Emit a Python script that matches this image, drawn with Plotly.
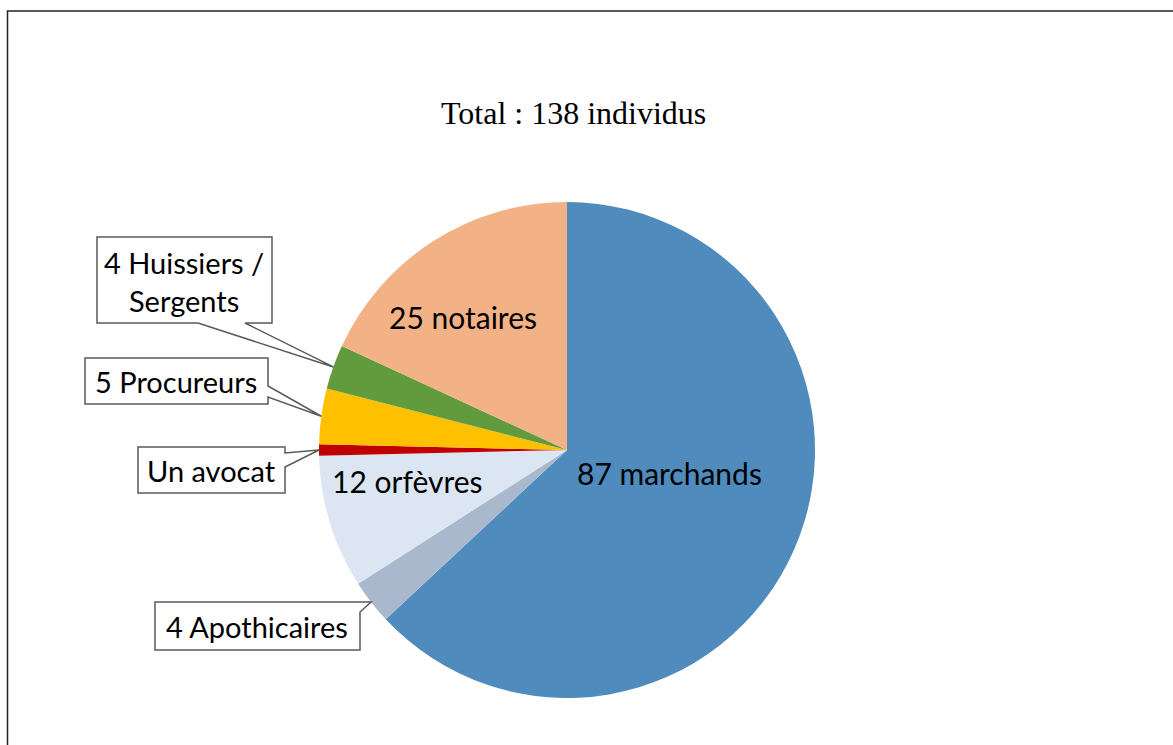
import math
import plotly.graph_objects as go

W, H = 1173, 745

categories = ["marchands", "Apothicaires", "orfèvres", "avocat",
              "Procureurs", "Huissiers / Sergents", "notaires"]
values = [87, 4, 12, 1, 5, 4, 25]
colors = ["#4F8BBD", "#A9B8CC", "#DCE6F2", "#C00000",
          "#FFC000", "#629B3E", "#F3B186"]
inside_labels = {"marchands": "87 marchands", "orfèvres": "12 orfèvres",
                 "notaires": "25 notaires"}
callout_labels = {"Huissiers / Sergents": "4 Huissiers /<br>Sergents",
                  "Procureurs": "5 Procureurs", "avocat": "Un avocat",
                  "Apothicaires": "4 Apothicaires"}
title = "Total : 138 individus"

# pie geometry in pixels
cx, cy, r = 567, 450, 248


def px(x):
    return x / W


def py(y):
    return 1 - y / H


fig = go.Figure(go.Pie(
    labels=categories, values=values, sort=False, direction="clockwise",
    rotation=0, marker=dict(colors=colors, line=dict(width=0)),
    textinfo="none", hoverinfo="skip", showlegend=False,
    domain=dict(x=[px(cx - r), px(cx + r)], y=[py(cy + r), py(cy - r)]),
))

# mid-arc points of each slice (for callout tips)
total = sum(values)
tips = {}
acc = 0
for c, v in zip(categories, values):
    mid = (acc + v / 2) / total * 2 * math.pi
    tips[c] = (cx + r * math.sin(mid), cy - r * math.cos(mid))
    acc += v

font = dict(family="Lato", size=30, color="black")
box_font = dict(family="Lato", size=29, color="black")


def label(x, y, text, f=font):
    fig.add_annotation(x=px(x), y=py(y), xref="paper", yref="paper",
                       xanchor="center", yanchor="middle",
                       text=text, showarrow=False, font=f)


inside_pos = {"marchands": (669, 473), "orfèvres": (407, 481),
              "notaires": (463, 317)}
for c, t in inside_labels.items():
    label(*inside_pos[c], t)

# callout boxes with pointer to the slice
shapes = []


def callout(pts):
    d = "M " + " L ".join(f"{px(x)},{py(y)}" for x, y in pts) + " Z"
    shapes.append(dict(type="path", path=d, xref="paper", yref="paper",
                       line=dict(color="#5A5A5A", width=1.5),
                       fillcolor="white"))


tx, ty = tips["Huissiers / Sergents"]
callout([(97, 237), (272, 237), (272, 323), (245, 323), (tx, ty),
         (198, 323), (97, 323)])
tx, ty = tips["Procureurs"]
callout([(85, 358), (268, 358), (268, 386), (tx, ty), (268, 397),
         (268, 404), (85, 404)])
tx, ty = tips["avocat"]
callout([(138, 447), (285, 447), (285, 453), (tx, ty), (285, 467),
         (285, 493), (138, 493)])
tx, ty = tips["Apothicaires"]
callout([(155, 602), (352, 602), (tx, ty), (360, 612), (360, 650),
         (155, 650)])

callout_pos = {"Huissiers / Sergents": (184, 281), "Procureurs": (176, 381),
               "avocat": (211, 470), "Apothicaires": (257, 626)}
for c, t in callout_labels.items():
    label(*callout_pos[c], t, box_font)

label(573, 113, title,
      dict(family="Liberation Serif", size=32, color="black"))

# outer chart frame
shapes.append(dict(type="rect", xref="paper", yref="paper",
                   x0=px(7.5), y0=py(780), x1=px(1200), y1=py(11),
                   line=dict(color="#222222", width=1.5)))

fig.update_layout(width=W, height=H, margin=dict(l=0, r=0, t=0, b=0),
                  paper_bgcolor="white", plot_bgcolor="white", shapes=shapes)

fig.write_html("out.html", config={"displayModeBar": False},
               post_script="document.body.style.margin='0';")
